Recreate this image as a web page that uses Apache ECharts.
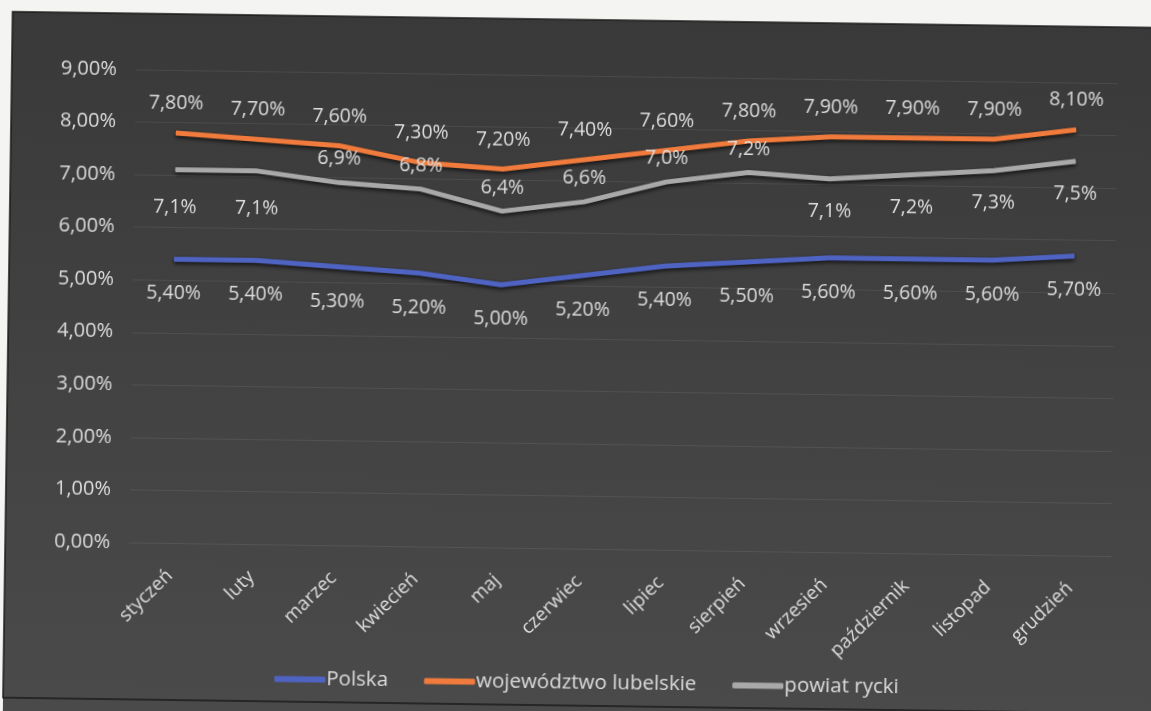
<!DOCTYPE html>
<html>
<head>
<meta charset="utf-8">
<script src="https://cdn.jsdelivr.net/npm/echarts@6/dist/echarts.min.js"></script>
<style>
html,body{margin:0;padding:0;background:#f4f4f2;overflow:hidden;width:1151px;height:711px;}
#back{position:absolute;left:10px;top:14px;width:1400px;height:900px;
  background:linear-gradient(to bottom,#393939 0px,#4a4a4a 686px,#4a4a4a 900px);
  transform:rotate(0.8deg);transform-origin:165px 186px;}
#chart{position:absolute;left:0;top:0;width:1200px;height:740px;transform:rotate(0.8deg);transform-origin:175px 200px;}
</style>
</head>
<body>
<div id="back"></div>
<div id="chart"></div>
<script>
var categories = ['styczeń','luty','marzec','kwiecień','maj','czerwiec','lipiec','sierpień','wrzesień','październik','listopad','grudzień'];
var polska = [5.4,5.4,5.3,5.2,5.0,5.2,5.4,5.5,5.6,5.6,5.6,5.7];
var lubelskie = [7.8,7.7,7.6,7.3,7.2,7.4,7.6,7.8,7.9,7.9,7.9,8.1];
var rycki = [7.1,7.1,6.9,6.8,6.4,6.6,7.0,7.2,7.1,7.2,7.3,7.5];
var yTicks = [0,1,2,3,4,5,6,7,8,9];
var ryckiLabelAbove = [false,false,true,true,true,true,true,true,false,false,false,false];

var font = 'Open Sans';
var txt = '#dcdcdc';
var lblSize = 19.5;
function fmt(v, d){ return v.toFixed(d).replace('.', ',') + '%'; }

var ryckiData = rycki.map(function(v, i){
  var above = ryckiLabelAbove[i];
  return { value: v, label: { position: above ? 'top' : 'bottom', distance: above ? 13 : (i < 2 ? 27 : 22) } };
});

var lineShadow = { shadowColor: 'rgba(0,0,0,0.75)', shadowBlur: 4, shadowOffsetY: 2 };

var chart = echarts.init(document.getElementById('chart'), null, {renderer: 'canvas'});
chart.setOption({
  backgroundColor: 'transparent',
  animation: false,
  graphic: [{
    type: 'rect', z: -10, silent: true,
    shape: { x: 10, y: 14, width: 1220, height: 686 },
    style: { fill: 'transparent', stroke: '#1a1a1a', lineWidth: 1.5 }
  }],
  grid: { left: 134, right: 84, top: 70, bottom: 197 },
  legend: {
    left: 276, top: 662,
    itemWidth: 51, itemHeight: 6, itemGap: 36,
    icon: 'roundRect',
    textStyle: { color: txt, fontFamily: font, fontSize: 20.5, padding: [0,0,0,-4] },
    data: ['Polska','województwo lubelskie','powiat rycki']
  },
  xAxis: {
    type: 'category', data: categories, boundaryGap: true,
    axisLine: { show: false }, axisTick: { show: false },
    axisLabel: { rotate: 45, color: txt, fontFamily: font, fontSize: 19, margin: 30, interval: 0 }
  },
  yAxis: {
    type: 'value', min: 0, max: 9, interval: 1,
    axisLine: { show: false }, axisTick: { show: false },
    axisLabel: { color: txt, fontFamily: font, fontSize: 20, margin: 19, formatter: function(v){ return fmt(v, 2); } },
    splitLine: { lineStyle: { color: 'rgba(255,255,255,0.07)', width: 1 } }
  },
  series: [
    {
      name: 'Polska', type: 'line', data: polska,
      symbol: 'circle', symbolSize: 1, showSymbol: true,
      lineStyle: Object.assign({ color: '#4f63c2', width: 5 }, lineShadow),
      itemStyle: { color: '#4f63c2' },
      label: { show: true, position: 'bottom', distance: 24, color: txt, fontFamily: font, fontSize: lblSize, formatter: function(p){ return fmt(p.value, 2); } }
    },
    {
      name: 'województwo lubelskie', type: 'line', data: lubelskie,
      symbol: 'circle', symbolSize: 1, showSymbol: true,
      lineStyle: Object.assign({ color: '#f07b3c', width: 5 }, lineShadow),
      itemStyle: { color: '#f07b3c' },
      label: { show: true, position: 'top', distance: 19, color: txt, fontFamily: font, fontSize: lblSize, formatter: function(p){ return fmt(p.value, 2); } }
    },
    {
      name: 'powiat rycki', type: 'line', data: ryckiData,
      symbol: 'circle', symbolSize: 1, showSymbol: true,
      lineStyle: Object.assign({ color: '#a9a9a9', width: 5 }, lineShadow),
      itemStyle: { color: '#a9a9a9' },
      label: { show: true, color: txt, fontFamily: font, fontSize: lblSize, formatter: function(p){ return fmt(p.value, 1); } }
    }
  ]
});
</script>
</body>
</html>
